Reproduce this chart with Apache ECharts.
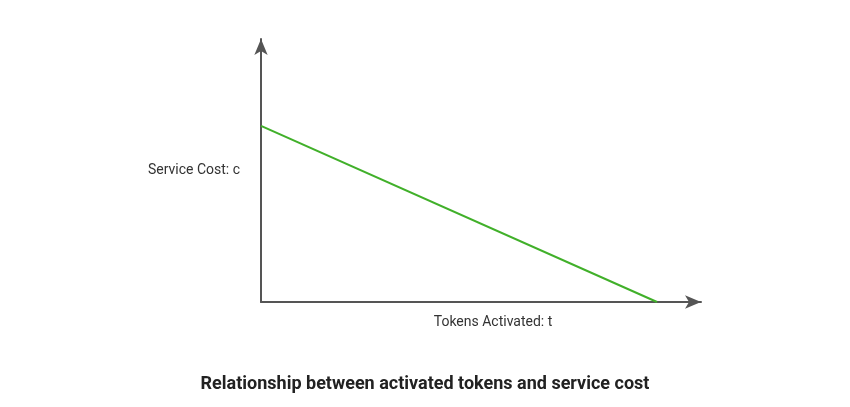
<!DOCTYPE html>
<html>
<head>
<meta charset="utf-8">
<script src="https://cdn.jsdelivr.net/npm/echarts@6/dist/echarts.min.js"></script>
<style>html,body{margin:0;padding:0;background:#fff}#c{width:850px;height:407px}</style>
</head>
<body>
<div id="c"></div>
<script>
const titleText = 'Relationship between activated tokens and service cost';
const xName = 'Tokens Activated: t';
const yName = 'Service Cost: c';
const tokens = [0, 90];
const cost = [67, 0];

const chart = echarts.init(document.getElementById('c'), null, {renderer: 'canvas'});
const axisColor = '#555555';
chart.setOption({
  animation: false,
  backgroundColor: '#ffffff',
  title: {
    text: titleText,
    left: 'center',
    top: 370,
    textStyle: {fontFamily: 'Roboto', fontWeight: 'bold', fontSize: 18, color: '#222222'}
  },
  grid: {left: 261, right: 149, top: 39, bottom: 105},
  xAxis: {
    type: 'value', min: 0, max: 100,
    name: xName, nameLocation: 'middle', nameGap: 13,
    nameTextStyle: {fontFamily: 'Roboto', fontSize: 14, color: '#333333', padding: [0, 0, 0, 24]},
    axisLine: {show: true, symbol: ['none', 'arrow'], symbolSize: [10, 16], lineStyle: {color: axisColor, width: 2}},
    axisTick: {show: false}, axisLabel: {show: false}, splitLine: {show: false}
  },
  yAxis: {
    type: 'value', min: 0, max: 100,
    name: yName, nameLocation: 'middle', nameRotate: 0, nameGap: 21,
    nameTextStyle: {fontFamily: 'Roboto', fontSize: 14, color: '#333333', align: 'right', verticalAlign: 'middle'},
    axisLine: {show: true, symbol: ['none', 'arrow'], symbolSize: [10, 16], lineStyle: {color: axisColor, width: 2}},
    axisTick: {show: false}, axisLabel: {show: false}, splitLine: {show: false}
  },
  series: [{
    type: 'line',
    data: tokens.map((t, i) => [t, cost[i]]),
    showSymbol: false,
    lineStyle: {color: '#41b02a', width: 2}
  }]
});
</script>
</body>
</html>
